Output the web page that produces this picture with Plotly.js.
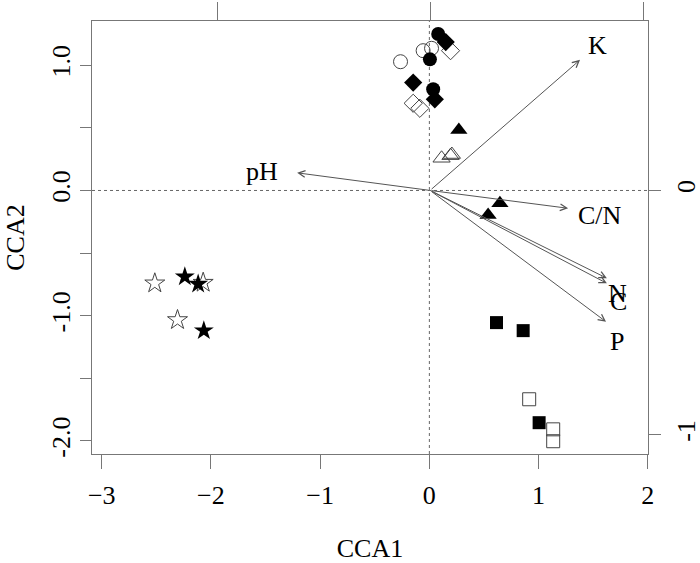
<!DOCTYPE html>
<html>
<head>
<meta charset="utf-8">
<script src="https://cdn.plot.ly/plotly-3.0.1.min.js"></script>
<style>html,body{margin:0;padding:0;background:#fff;}#chart{width:700px;height:563px;}</style>
</head>
<body>
<div id="chart"></div>
<script>
// ---- Site scores (CCA1, CCA2) by group ----
const circleFilledX = [0.081, 0.005, 0.035];
const circleFilledY = [1.249, 1.047, 0.808];
const circleOpenX = [-0.264, -0.057, 0.020];
const circleOpenY = [1.028, 1.116, 1.135];
const diamondFilledX = [0.150, -0.148, 0.050];
const diamondFilledY = [1.185, 0.861, 0.728];
const diamondOpenX = [0.194, -0.148, -0.087];
const diamondOpenY = [1.116, 0.696, 0.656];
const triFilledX = [0.270, 0.646, 0.538];
const triFilledY = [0.483, -0.102, -0.196];
const triOpenX = [0.112, 0.194, 0.206];
const triOpenY = [0.257, 0.278, 0.287];
const starFilledX = [-2.239, -2.117, -2.065];
const starFilledY = [-0.688, -0.746, -1.119];
const starOpenX = [-2.514, -2.071, -2.306];
const starOpenY = [-0.741, -0.736, -1.034];
const squareFilledX = [0.615, 0.859, 1.005];
const squareFilledY = [-1.055, -1.119, -1.854];
const squareOpenX = [0.914, 1.134, 1.134];
const squareOpenY = [-1.667, -1.907, -2.002];

// ---- Environmental biplot arrows (biplot scale: top / right axes) ----
const envNames = ['K', 'pH', 'C/N', 'N', 'C', 'P'];
const envX = [0.704, -0.624, 0.648, 0.830, 0.830, 0.826];
const envY = [0.534, 0.072, -0.073, -0.359, -0.380, -0.537];
const envLabelX = [0.784, -0.789, 0.798, 0.878, 0.883, 0.878];
const envLabelY = [0.591, 0.076, -0.104, -0.423, -0.456, -0.616];

// ---- Axis ticks ----
const xTicks = [-3, -2, -1, 0, 1, 2];
const yTicks = [-2, -1.5, -1, -0.5, 0, 0.5, 1];
const yTickText = ['-2.0', '', '-1.0', '', '0.0', '', '1.0'];
const x2Ticks = [-1, 0, 1];
const y2Ticks = [-1, 0];
const y2TickText = ['-1', '0'];

const FONT = 'Liberation Serif, Times New Roman, serif';
const GREY = '#777777';
const OPEN_LINE = '#444444';

function grp(x, y, symbol, size, filled) {
  return {
    type: 'scatter', mode: 'markers', x: x, y: y, xaxis: 'x', yaxis: 'y',
    hoverinfo: 'skip', showlegend: false,
    marker: filled
      ? {symbol: symbol, size: size, color: '#000000', line: {width: 0}}
      : {symbol: symbol + '-open', size: size, color: OPEN_LINE, line: {width: 1, color: OPEN_LINE}}
  };
}

const traces = [
  grp(circleOpenX, circleOpenY, 'circle', 14, false),
  grp(diamondOpenX, diamondOpenY, 'diamond', 14, false),
  grp(triOpenX, triOpenY, 'triangle-up', 15, false),
  grp(starOpenX, starOpenY, 'star', 15, false),
  grp(squareOpenX, squareOpenY, 'square', 13, false),
  grp(circleFilledX, circleFilledY, 'circle', 14, true),
  grp(diamondFilledX, diamondFilledY, 'diamond', 14, true),
  grp(triFilledX, triFilledY, 'triangle-up', 15, true),
  grp(starFilledX, starFilledY, 'star', 15, true),
  grp(squareFilledX, squareFilledY, 'square', 13, true),
  // anchor trace for the biplot (top/right) axes: origin of arrows
  {type: 'scatter', mode: 'markers', x: [0], y: [0], xaxis: 'x2', yaxis: 'y2',
   marker: {size: 1, opacity: 0}, hoverinfo: 'skip', showlegend: false}
];

const annotations = [];
envNames.forEach(function (n, i) {
  annotations.push({
    xref: 'x2', yref: 'y2', axref: 'x2', ayref: 'y2',
    x: envX[i], y: envY[i], ax: 0, ay: 0, text: '',
    showarrow: true, arrowhead: 5, arrowsize: 1.3, arrowwidth: 1, arrowcolor: '#555555',
    standoff: 0, startstandoff: 0
  });
  annotations.push({
    xref: 'x2', yref: 'y2', x: envLabelX[i], y: envLabelY[i], text: n,
    showarrow: false, xanchor: 'center', yanchor: 'middle',
    font: {family: FONT, size: 26, color: '#000000'}
  });
});

const layout = {
  width: 700, height: 563,
  margin: {l: 92, r: 52, t: 21, b: 109, pad: 0},
  paper_bgcolor: '#ffffff', plot_bgcolor: '#ffffff',
  showlegend: false,
  font: {family: FONT, size: 26, color: '#000000'},
  xaxis: {
    range: [-3.089, 2.002], tickmode: 'array', tickvals: xTicks,
    ticks: 'outside', ticklen: 14, tickwidth: 1, tickcolor: GREY,
    showline: true, linecolor: GREY, linewidth: 1, mirror: true,
    showgrid: false, zeroline: false, ticklabelstandoff: 4,
    tickfont: {family: FONT, size: 26}, automargin: false,
    title: {text: 'CCA1', font: {family: FONT, size: 26}, standoff: 32}
  },
  yaxis: {
    range: [-2.104, 1.353], tickmode: 'array', tickvals: yTicks, ticktext: yTickText,
    tickangle: -90, ticks: 'outside', ticklen: 11, tickwidth: 1, tickcolor: GREY,
    showline: true, linecolor: GREY, linewidth: 1, mirror: true,
    showgrid: false, zeroline: false,
    tickfont: {family: FONT, size: 26}, automargin: false,
    title: {text: 'CCA2', font: {family: FONT, size: 26}, standoff: 14}
  },
  xaxis2: {
    overlaying: 'x', side: 'top', anchor: 'y',
    range: [-1.587, 1.023], tickmode: 'array', tickvals: x2Ticks,
    showticklabels: false, ticks: 'outside', ticklen: 18, tickwidth: 1, tickcolor: GREY,
    showline: false, showgrid: false, zeroline: false
  },
  yaxis2: {
    overlaying: 'y', side: 'right', anchor: 'x',
    range: [-1.078, 0.693], tickmode: 'array', tickvals: y2Ticks, ticktext: y2TickText,
    tickangle: -90, ticks: 'outside', ticklen: 12, tickwidth: 1, tickcolor: GREY,
    showline: false, showgrid: false, zeroline: false, ticklabelstandoff: 3,
    tickfont: {family: FONT, size: 26}
  },
  shapes: [
    {type: 'line', xref: 'x', yref: 'paper', x0: 0, x1: 0, y0: 0, y1: 1,
     line: {color: '#666666', width: 1, dash: 'dot'}, layer: 'below'},
    {type: 'line', xref: 'paper', yref: 'y', x0: 0, x1: 1, y0: 0, y1: 0,
     line: {color: '#666666', width: 1, dash: 'dot'}, layer: 'below'}
  ],
  annotations: annotations
};

Plotly.newPlot('chart', traces, layout, {staticPlot: true, displayModeBar: false});
</script>
</body>
</html>
